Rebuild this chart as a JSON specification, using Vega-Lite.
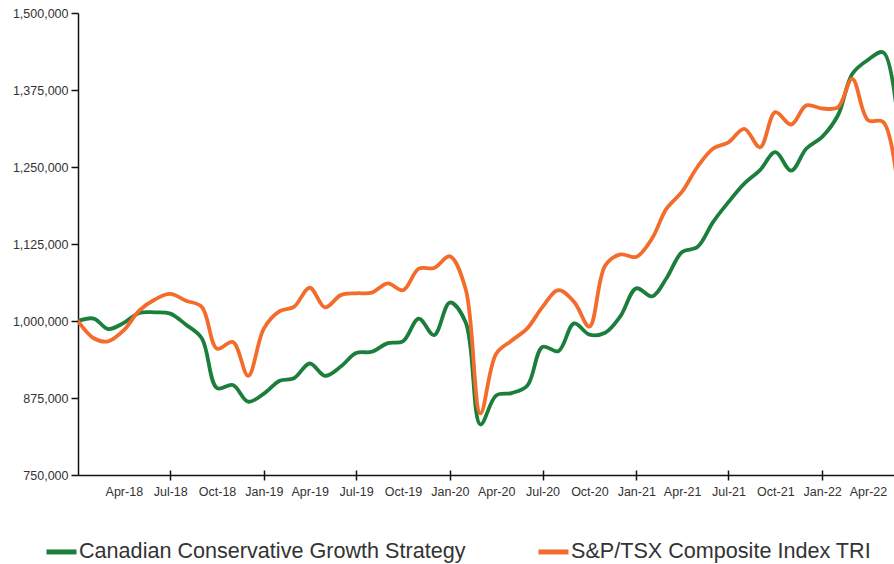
{
  "$schema": "https://vega.github.io/schema/vega-lite/v6.json",
  "width": 816,
  "height": 462,
  "autosize": {"type": "none"},
  "padding": {"left": 78, "top": 13, "right": 0, "bottom": 89},
  "background": "white",
  "config": {
    "view": {"stroke": null},
    "font": "Liberation Sans",
    "axis": {"labelFont": "Liberation Sans", "labelFontSize": 12.5, "labelColor": "#333333", "domainColor": "#111111", "domainWidth": 1.5, "tickColor": "#111111", "tickWidth": 1.5, "grid": false, "title": null}
  },
  "data": {"values": [
    {"date": "2018-01-01", "series": "Canadian Conservative Growth Strategy", "value": 1000000},
    {"date": "2018-02-01", "series": "Canadian Conservative Growth Strategy", "value": 1004000},
    {"date": "2018-03-01", "series": "Canadian Conservative Growth Strategy", "value": 987000},
    {"date": "2018-04-01", "series": "Canadian Conservative Growth Strategy", "value": 997000},
    {"date": "2018-05-01", "series": "Canadian Conservative Growth Strategy", "value": 1013000},
    {"date": "2018-06-01", "series": "Canadian Conservative Growth Strategy", "value": 1014000},
    {"date": "2018-07-01", "series": "Canadian Conservative Growth Strategy", "value": 1012000},
    {"date": "2018-08-01", "series": "Canadian Conservative Growth Strategy", "value": 994000},
    {"date": "2018-09-01", "series": "Canadian Conservative Growth Strategy", "value": 972000},
    {"date": "2018-10-01", "series": "Canadian Conservative Growth Strategy", "value": 891000},
    {"date": "2018-11-01", "series": "Canadian Conservative Growth Strategy", "value": 896000},
    {"date": "2018-12-01", "series": "Canadian Conservative Growth Strategy", "value": 869000},
    {"date": "2019-01-01", "series": "Canadian Conservative Growth Strategy", "value": 882000},
    {"date": "2019-02-01", "series": "Canadian Conservative Growth Strategy", "value": 903000},
    {"date": "2019-03-01", "series": "Canadian Conservative Growth Strategy", "value": 907000},
    {"date": "2019-04-01", "series": "Canadian Conservative Growth Strategy", "value": 931000},
    {"date": "2019-05-01", "series": "Canadian Conservative Growth Strategy", "value": 911000},
    {"date": "2019-06-01", "series": "Canadian Conservative Growth Strategy", "value": 926000},
    {"date": "2019-07-01", "series": "Canadian Conservative Growth Strategy", "value": 948000},
    {"date": "2019-08-01", "series": "Canadian Conservative Growth Strategy", "value": 950000},
    {"date": "2019-09-01", "series": "Canadian Conservative Growth Strategy", "value": 964000},
    {"date": "2019-10-01", "series": "Canadian Conservative Growth Strategy", "value": 967000},
    {"date": "2019-11-01", "series": "Canadian Conservative Growth Strategy", "value": 1004000},
    {"date": "2019-12-01", "series": "Canadian Conservative Growth Strategy", "value": 977000},
    {"date": "2020-01-01", "series": "Canadian Conservative Growth Strategy", "value": 1030000},
    {"date": "2020-02-01", "series": "Canadian Conservative Growth Strategy", "value": 998000},
    {"date": "2020-03-01", "series": "Canadian Conservative Growth Strategy", "value": 832000},
    {"date": "2020-04-01", "series": "Canadian Conservative Growth Strategy", "value": 879000},
    {"date": "2020-05-01", "series": "Canadian Conservative Growth Strategy", "value": 883000},
    {"date": "2020-06-01", "series": "Canadian Conservative Growth Strategy", "value": 895000},
    {"date": "2020-07-01", "series": "Canadian Conservative Growth Strategy", "value": 958000},
    {"date": "2020-08-01", "series": "Canadian Conservative Growth Strategy", "value": 951000},
    {"date": "2020-09-01", "series": "Canadian Conservative Growth Strategy", "value": 996000},
    {"date": "2020-10-01", "series": "Canadian Conservative Growth Strategy", "value": 978000},
    {"date": "2020-11-01", "series": "Canadian Conservative Growth Strategy", "value": 981000},
    {"date": "2020-12-01", "series": "Canadian Conservative Growth Strategy", "value": 1008000},
    {"date": "2021-01-01", "series": "Canadian Conservative Growth Strategy", "value": 1053000},
    {"date": "2021-02-01", "series": "Canadian Conservative Growth Strategy", "value": 1040000},
    {"date": "2021-03-01", "series": "Canadian Conservative Growth Strategy", "value": 1069000},
    {"date": "2021-04-01", "series": "Canadian Conservative Growth Strategy", "value": 1112000},
    {"date": "2021-05-01", "series": "Canadian Conservative Growth Strategy", "value": 1120000},
    {"date": "2021-06-01", "series": "Canadian Conservative Growth Strategy", "value": 1161000},
    {"date": "2021-07-01", "series": "Canadian Conservative Growth Strategy", "value": 1193000},
    {"date": "2021-08-01", "series": "Canadian Conservative Growth Strategy", "value": 1223000},
    {"date": "2021-09-01", "series": "Canadian Conservative Growth Strategy", "value": 1245000},
    {"date": "2021-10-01", "series": "Canadian Conservative Growth Strategy", "value": 1274000},
    {"date": "2021-11-01", "series": "Canadian Conservative Growth Strategy", "value": 1244000},
    {"date": "2021-12-01", "series": "Canadian Conservative Growth Strategy", "value": 1280000},
    {"date": "2022-01-01", "series": "Canadian Conservative Growth Strategy", "value": 1299000},
    {"date": "2022-02-01", "series": "Canadian Conservative Growth Strategy", "value": 1334000},
    {"date": "2022-03-01", "series": "Canadian Conservative Growth Strategy", "value": 1401000},
    {"date": "2022-04-01", "series": "Canadian Conservative Growth Strategy", "value": 1424000},
    {"date": "2022-05-01", "series": "Canadian Conservative Growth Strategy", "value": 1436000},
    {"date": "2022-06-01", "series": "Canadian Conservative Growth Strategy", "value": 1304000},
    {"date": "2018-01-01", "series": "S&P/TSX Composite Index TRI", "value": 1000000},
    {"date": "2018-02-01", "series": "S&P/TSX Composite Index TRI", "value": 972000},
    {"date": "2018-03-01", "series": "S&P/TSX Composite Index TRI", "value": 967000},
    {"date": "2018-04-01", "series": "S&P/TSX Composite Index TRI", "value": 985000},
    {"date": "2018-05-01", "series": "S&P/TSX Composite Index TRI", "value": 1017000},
    {"date": "2018-06-01", "series": "S&P/TSX Composite Index TRI", "value": 1035000},
    {"date": "2018-07-01", "series": "S&P/TSX Composite Index TRI", "value": 1044000},
    {"date": "2018-08-01", "series": "S&P/TSX Composite Index TRI", "value": 1033000},
    {"date": "2018-09-01", "series": "S&P/TSX Composite Index TRI", "value": 1023000},
    {"date": "2018-10-01", "series": "S&P/TSX Composite Index TRI", "value": 955000},
    {"date": "2018-11-01", "series": "S&P/TSX Composite Index TRI", "value": 966000},
    {"date": "2018-12-01", "series": "S&P/TSX Composite Index TRI", "value": 911000},
    {"date": "2019-01-01", "series": "S&P/TSX Composite Index TRI", "value": 988000},
    {"date": "2019-02-01", "series": "S&P/TSX Composite Index TRI", "value": 1016000},
    {"date": "2019-03-01", "series": "S&P/TSX Composite Index TRI", "value": 1023000},
    {"date": "2019-04-01", "series": "S&P/TSX Composite Index TRI", "value": 1054000},
    {"date": "2019-05-01", "series": "S&P/TSX Composite Index TRI", "value": 1022000},
    {"date": "2019-06-01", "series": "S&P/TSX Composite Index TRI", "value": 1042000},
    {"date": "2019-07-01", "series": "S&P/TSX Composite Index TRI", "value": 1045000},
    {"date": "2019-08-01", "series": "S&P/TSX Composite Index TRI", "value": 1046000},
    {"date": "2019-09-01", "series": "S&P/TSX Composite Index TRI", "value": 1061000},
    {"date": "2019-10-01", "series": "S&P/TSX Composite Index TRI", "value": 1050000},
    {"date": "2019-11-01", "series": "S&P/TSX Composite Index TRI", "value": 1085000},
    {"date": "2019-12-01", "series": "S&P/TSX Composite Index TRI", "value": 1086000},
    {"date": "2020-01-01", "series": "S&P/TSX Composite Index TRI", "value": 1105000},
    {"date": "2020-02-01", "series": "S&P/TSX Composite Index TRI", "value": 1052000},
    {"date": "2020-03-01", "series": "S&P/TSX Composite Index TRI", "value": 850000},
    {"date": "2020-04-01", "series": "S&P/TSX Composite Index TRI", "value": 947000},
    {"date": "2020-05-01", "series": "S&P/TSX Composite Index TRI", "value": 968000},
    {"date": "2020-06-01", "series": "S&P/TSX Composite Index TRI", "value": 988000},
    {"date": "2020-07-01", "series": "S&P/TSX Composite Index TRI", "value": 1023000},
    {"date": "2020-08-01", "series": "S&P/TSX Composite Index TRI", "value": 1050000},
    {"date": "2020-09-01", "series": "S&P/TSX Composite Index TRI", "value": 1031000},
    {"date": "2020-10-01", "series": "S&P/TSX Composite Index TRI", "value": 991000},
    {"date": "2020-11-01", "series": "S&P/TSX Composite Index TRI", "value": 1090000},
    {"date": "2020-12-01", "series": "S&P/TSX Composite Index TRI", "value": 1108000},
    {"date": "2021-01-01", "series": "S&P/TSX Composite Index TRI", "value": 1104000},
    {"date": "2021-02-01", "series": "S&P/TSX Composite Index TRI", "value": 1134000},
    {"date": "2021-03-01", "series": "S&P/TSX Composite Index TRI", "value": 1182000},
    {"date": "2021-04-01", "series": "S&P/TSX Composite Index TRI", "value": 1210000},
    {"date": "2021-05-01", "series": "S&P/TSX Composite Index TRI", "value": 1250000},
    {"date": "2021-06-01", "series": "S&P/TSX Composite Index TRI", "value": 1280000},
    {"date": "2021-07-01", "series": "S&P/TSX Composite Index TRI", "value": 1290000},
    {"date": "2021-08-01", "series": "S&P/TSX Composite Index TRI", "value": 1312000},
    {"date": "2021-09-01", "series": "S&P/TSX Composite Index TRI", "value": 1282000},
    {"date": "2021-10-01", "series": "S&P/TSX Composite Index TRI", "value": 1339000},
    {"date": "2021-11-01", "series": "S&P/TSX Composite Index TRI", "value": 1319000},
    {"date": "2021-12-01", "series": "S&P/TSX Composite Index TRI", "value": 1350000},
    {"date": "2022-01-01", "series": "S&P/TSX Composite Index TRI", "value": 1345000},
    {"date": "2022-02-01", "series": "S&P/TSX Composite Index TRI", "value": 1347000},
    {"date": "2022-03-01", "series": "S&P/TSX Composite Index TRI", "value": 1393000},
    {"date": "2022-04-01", "series": "S&P/TSX Composite Index TRI", "value": 1326000},
    {"date": "2022-05-01", "series": "S&P/TSX Composite Index TRI", "value": 1323000},
    {"date": "2022-06-01", "series": "S&P/TSX Composite Index TRI", "value": 1197000}
  ]},
  "resolve": {"axis": {"x": "independent", "y": "shared"}},
  "layer": [
    {
      "mark": {"type": "line", "interpolate": "catmull-rom", "strokeWidth": 3.8, "clip": true},
      "encoding": {
        "x": {
          "field": "date", "type": "temporal",
          "scale": {"type": "utc", "domain": [{"year": 2018, "month": 1, "date": 1, "utc": true}, {"year": 2022, "month": 5, "date": 22, "utc": true}]},
          "axis": {
            "orient": "bottom",
            "format": "%b-%y",
            "ticks": false,
            "labelPadding": 10,
            "labelOverlap": false,
            "values": [
              {"year": 2018, "month": 4, "date": 1, "utc": true},
              {"year": 2018, "month": 7, "date": 1, "utc": true},
              {"year": 2018, "month": 10, "date": 1, "utc": true},
              {"year": 2019, "month": 1, "date": 1, "utc": true},
              {"year": 2019, "month": 4, "date": 1, "utc": true},
              {"year": 2019, "month": 7, "date": 1, "utc": true},
              {"year": 2019, "month": 10, "date": 1, "utc": true},
              {"year": 2020, "month": 1, "date": 1, "utc": true},
              {"year": 2020, "month": 4, "date": 1, "utc": true},
              {"year": 2020, "month": 7, "date": 1, "utc": true},
              {"year": 2020, "month": 10, "date": 1, "utc": true},
              {"year": 2021, "month": 1, "date": 1, "utc": true},
              {"year": 2021, "month": 4, "date": 1, "utc": true},
              {"year": 2021, "month": 7, "date": 1, "utc": true},
              {"year": 2021, "month": 10, "date": 1, "utc": true},
              {"year": 2022, "month": 1, "date": 1, "utc": true},
              {"year": 2022, "month": 4, "date": 1, "utc": true}
            ]
          }
        },
        "y": {
          "field": "value", "type": "quantitative",
          "scale": {"domain": [750000, 1500000], "nice": false, "zero": false},
          "axis": {"values": [750000, 875000, 1000000, 1125000, 1250000, 1375000, 1500000], "format": ",.0f", "tickSize": 7, "labelPadding": 3}
        },
        "color": {
          "field": "series", "type": "nominal",
          "scale": {"domain": ["Canadian Conservative Growth Strategy", "S&P/TSX Composite Index TRI"], "range": ["#1B7F3B", "#F36C2C"]},
          "legend": {
            "orient": "none", "legendX": -34, "legendY": 521, "direction": "horizontal",
            "title": null, "symbolType": "stroke", "symbolSize": 900, "symbolStrokeWidth": 5,
            "labelFont": "Liberation Sans", "labelFontSize": 21.6, "labelColor": "#333333",
            "labelOffset": 0, "columnPadding": 62, "labelLimit": 600, "padding": 0
          }
        }
      }
    },
    {
      "mark": {"type": "line", "strokeOpacity": 0, "clip": true},
      "encoding": {
        "x": {
          "field": "date", "type": "temporal",
          "axis": {
            "orient": "bottom", "labels": false, "domain": false, "tickSize": 10, "offset": -5,
            "values": [
              {"year": 2018, "month": 7, "date": 1, "utc": true},
              {"year": 2019, "month": 1, "date": 1, "utc": true},
              {"year": 2019, "month": 7, "date": 1, "utc": true},
              {"year": 2020, "month": 1, "date": 1, "utc": true},
              {"year": 2020, "month": 7, "date": 1, "utc": true},
              {"year": 2021, "month": 1, "date": 1, "utc": true},
              {"year": 2021, "month": 7, "date": 1, "utc": true},
              {"year": 2022, "month": 1, "date": 1, "utc": true}
            ]
          }
        },
        "y": {
          "field": "value", "type": "quantitative",
          "axis": {"values": [750000, 875000, 1000000, 1125000, 1250000, 1375000, 1500000], "format": ",.0f", "tickSize": 7, "labelPadding": 3}
        },
        "detail": {"field": "series", "type": "nominal"}
      }
    }
  ]
}
